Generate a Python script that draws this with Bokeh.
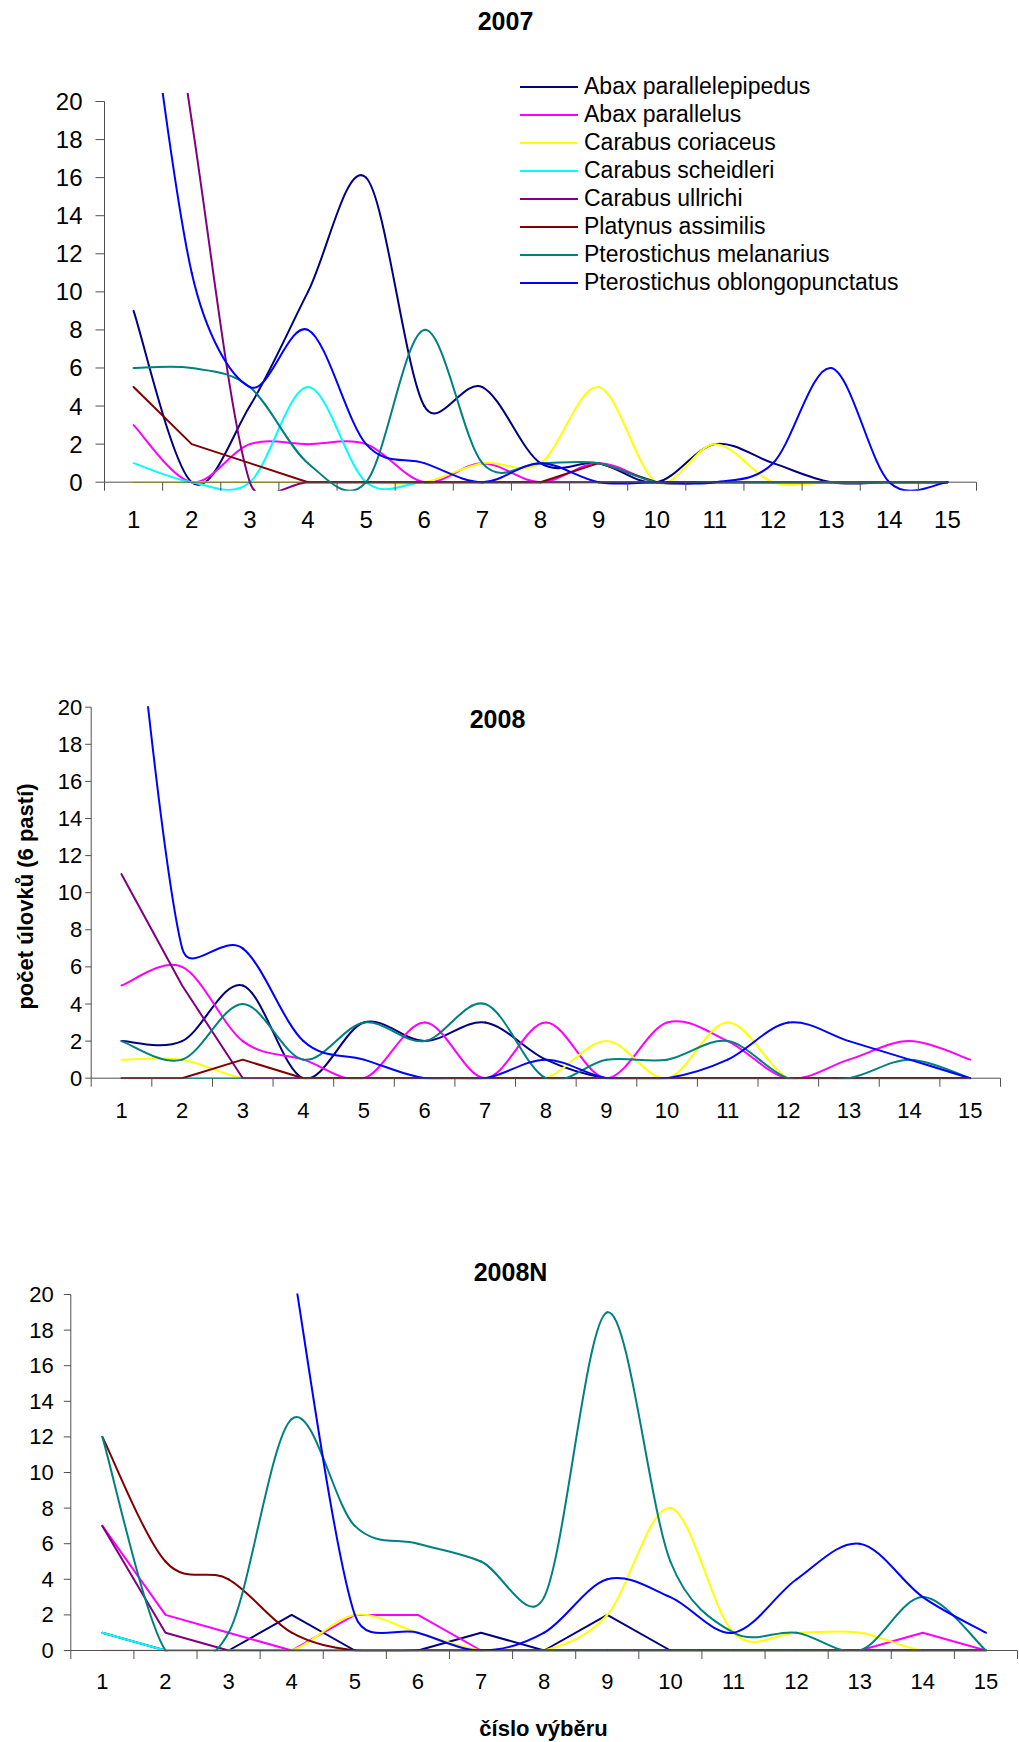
import math

from bokeh.core.properties import value
from bokeh.embed import file_html
from bokeh.layouts import column
from bokeh.models import ColumnDataSource, Legend, LegendItem, Range1d
from bokeh.plotting import figure
from bokeh.resources import INLINE

# ---------------------------------------------------------------- data
categories = list(range(1, 16))
tick_labels = [str(c) for c in categories]
y_ticks = list(range(0, 21, 2))

species = [
    "Abax parallelepipedus",
    "Abax parallelus",
    "Carabus coriaceus",
    "Carabus scheidleri",
    "Carabus ullrichi",
    "Platynus assimilis",
    "Pterostichus melanarius",
    "Pterostichus oblongopunctatus",
]
colors = ["#000080", "#FF00FF", "#FFFF00", "#00FFFF",
          "#800080", "#800000", "#008080", "#0000FF"]

# 2007
abax_parallelepipedus_2007 = [9, 0, 4, 10, 16, 4, 5, 1, 1, 0, 2, 1, 0, 0, 0]
abax_parallelus_2007 = [3, 0, 2, 2, 2, 0, 1, 0, 1, 0, 0, 0, 0, 0, 0]
carabus_coriaceus_2007 = [0, 0, 0, 0, 0, 0, 1, 1, 5, 0, 2, 0, 0, 0, 0]
carabus_scheidleri_2007 = [1, 0, 0, 5, 0, 0, 0, 0, 0, 0, 0, 0, 0, 0, 0]
carabus_ullrichi_2007 = [40, 19, 0, 0, 0, 0, 0, 0, 0, 0, 0, 0, 0, 0, 0]
platynus_assimilis_2007 = [5, 2, 1, 0, 0, 0, 0, 0, 1, 0, 0, 0, 0, 0, 0]
pterostichus_melanarius_2007 = [6, 6, 5, 1, 0, 8, 1, 1, 1, 0, 0, 0, 0, 0, 0]
pterostichus_oblongopunctatus_2007 = [32, 11, 5, 8, 2, 1, 0, 1, 0, 0, 0, 1, 6, 0, 0]

# 2008
abax_parallelepipedus_2008 = [2, 2, 5, 0, 3, 2, 3, 1, 0, 0, 0, 0, 0, 0, 0]
abax_parallelus_2008 = [5, 6, 2, 1, 0, 3, 0, 3, 0, 3, 2, 0, 1, 2, 1]
carabus_coriaceus_2008 = [1, 1, 0, 0, 0, 0, 0, 0, 2, 0, 3, 0, 0, 0, 0]
carabus_scheidleri_2008 = [0, 0, 0, 0, 0, 0, 0, 0, 0, 0, 0, 0, 0, 0, 0]
carabus_ullrichi_2008 = [11, 5, 0, 0, 0, 0, 0, 0, 0, 0, 0, 0, 0, 0, 0]
platynus_assimilis_2008 = [0, 0, 1, 0, 0, 0, 0, 0, 0, 0, 0, 0, 0, 0, 0]
pterostichus_melanarius_2008 = [2, 1, 4, 1, 3, 2, 4, 0, 1, 1, 2, 0, 0, 1, 0]
pterostichus_oblongopunctatus_2008 = [33, 7, 7, 2, 1, 0, 0, 1, 0, 0, 1, 3, 2, 1, 0]

# 2008N
abax_parallelepipedus_2008n = [1, 0, 0, 2, 0, 0, 1, 0, 2, 0, 0, 0, 0, 0, 0]
abax_parallelus_2008n = [7, 2, 1, 0, 2, 2, 0, 0, 0, 0, 0, 0, 0, 1, 0]
carabus_coriaceus_2008n = [0, 0, 0, 0, 2, 1, 0, 0, 2, 8, 1, 1, 1, 0, 0]
carabus_scheidleri_2008n = [1, 0, 0, 0, 0, 0, 0, 0, 0, 0, 0, 0, 0, 0, 0]
carabus_ullrichi_2008n = [7, 1, 0, 0, 0, 0, 0, 0, 0, 0, 0, 0, 0, 0, 0]
platynus_assimilis_2008n = [12, 5, 4, 1, 0, 0, 0, 0, 0, 0, 0, 0, 0, 0, 0]
pterostichus_melanarius_2008n = [12, 0, 1, 13, 7, 6, 5, 3, 19, 5, 1, 1, 0, 3, 0]
pterostichus_oblongopunctatus_2008n = [None, None, None, 22, 2, 1, 0, 1, 4, 3, 1, 4, 6, 3, 1]

series_2007 = [abax_parallelepipedus_2007, abax_parallelus_2007,
               carabus_coriaceus_2007, carabus_scheidleri_2007,
               carabus_ullrichi_2007, platynus_assimilis_2007,
               pterostichus_melanarius_2007, pterostichus_oblongopunctatus_2007]
series_2008 = [abax_parallelepipedus_2008, abax_parallelus_2008,
               carabus_coriaceus_2008, carabus_scheidleri_2008,
               carabus_ullrichi_2008, platynus_assimilis_2008,
               pterostichus_melanarius_2008, pterostichus_oblongopunctatus_2008]
series_2008n = [abax_parallelepipedus_2008n, abax_parallelus_2008n,
                carabus_coriaceus_2008n, carabus_scheidleri_2008n,
                carabus_ullrichi_2008n, platynus_assimilis_2008n,
                pterostichus_melanarius_2008n, pterostichus_oblongopunctatus_2008n]

# line style per series: smoothed curve (True) or straight segments (False)
smooth_2007 = [True, True, True, True, True, False, True, True]
smooth_2008 = [True, True, True, True, False, False, True, True]
smooth_2008n = [False, False, True, False, False, True, True, True]

FONT = "Liberation Sans"
AXIS_COLOR = "#505050"
PAGE_W = 1019


def smooth_segments(xs, ys, sx, sy):
    """Spreadsheet-style smoothed line: one cubic Bezier per pair of
    neighbouring points, control arms 1/6 of the neighbour chord, capped
    at half the segment length (computed in pixel space)."""
    keys = ("x0", "y0", "x1", "y1", "cx0", "cy0", "cx1", "cy1")
    out = {k: [] for k in keys}
    runs, cur = [], []
    for x, y in zip(xs, ys):
        if y is None:
            if cur:
                runs.append(cur)
            cur = []
        else:
            cur.append((x * sx, y * sy))
    if cur:
        runs.append(cur)

    def dist(a, b):
        return math.hypot(a[0] - b[0], a[1] - b[1])

    for pts in runs:
        n = len(pts)
        for i in range(n - 1):
            p0 = pts[i - 1] if i > 0 else pts[i]
            p1, p2 = pts[i], pts[i + 1]
            p3 = pts[i + 2] if i + 2 < n else pts[i + 1]
            d12, d02, d13 = dist(p1, p2), dist(p0, p2), dist(p1, p3)
            f1 = 1 / 6 if d02 / 6 < d12 / 2 else d12 / (2 * d02)
            f2 = 1 / 6 if d13 / 6 < d12 / 2 else d12 / (2 * d13)
            c1 = (p1[0] + f1 * (p2[0] - p0[0]), p1[1] + f1 * (p2[1] - p0[1]))
            c2 = (p2[0] - f2 * (p3[0] - p1[0]), p2[1] - f2 * (p3[1] - p1[1]))
            out["x0"].append(p1[0] / sx); out["y0"].append(p1[1] / sy)
            out["x1"].append(p2[0] / sx); out["y1"].append(p2[1] / sy)
            out["cx0"].append(c1[0] / sx); out["cy0"].append(c1[1] / sy)
            out["cx1"].append(c2[0] / sx); out["cy1"].append(c2[1] / sy)
    return out


class Panel:
    """One chart drawn on a figure whose frame fills the whole figure;
    axes, ticks and texts are drawn on top of the plot area."""

    def __init__(self, series, smooth, fig_top, height, left, right, y0_px,
                 y20_px, clip_px, tick_size, ytick_len, ylabel_gap, xlabel_dy):
        self.fig_top = fig_top
        self.left = left
        self.y0_px = y0_px
        self.sx = (right - left) / 15.0
        self.sy = (y0_px - y20_px) / 20.0
        p = figure(width=PAGE_W, height=height,
                   x_range=Range1d(self.X(0), self.X(PAGE_W)),
                   y_range=Range1d(self.Y(fig_top + height), self.Y(fig_top)),
                   output_backend="svg", toolbar_location=None, title=None,
                   x_axis_location=None, y_axis_location=None,
                   min_border=0, min_border_left=0, min_border_right=0,
                   min_border_top=0, min_border_bottom=0)
        p.xgrid.visible = False
        p.ygrid.visible = False
        p.outline_line_color = None
        p.background_fill_color = "white"
        p.border_fill_color = "white"
        self.p = p

        # series
        self.renderers = []
        for vals, col, sm in zip(series, colors, smooth):
            if sm:
                src = ColumnDataSource(
                    smooth_segments(categories, vals, self.sx, self.sy))
                r = p.bezier(x0="x0", y0="y0", x1="x1", y1="y1",
                             cx0="cx0", cy0="cy0", cx1="cx1", cy1="cy1",
                             source=src, line_color=col, line_width=2,
                             line_cap="round")
            else:
                ys = [float("nan") if v is None else v for v in vals]
                r = p.line(x=categories, y=ys, line_color=col, line_width=2,
                           line_join="round", line_cap="round")
            self.renderers.append(r)

        # plot-area clipping: blank out what runs past the value range
        top_clip = 20 + clip_px / self.sy
        bot_clip = -clip_px / self.sy
        yr = p.y_range
        span = yr.end - yr.start
        mask = p.quad(left=[0.5, 0.5], right=[15.5, 15.5],
                      bottom=[top_clip, yr.start - span],
                      top=[yr.end + span, bot_clip],
                      fill_color="white", fill_alpha=1.0, line_color=None)
        mask.level = "guide"

        # value axis
        ax = [p.segment(x0=[0.5], y0=[0], x1=[0.5], y1=[20],
                        line_color=AXIS_COLOR, line_width=1)]
        ax.append(p.segment(x0=[0.5] * len(y_ticks), y0=y_ticks,
                            x1=[0.5 - ytick_len / self.sx] * len(y_ticks),
                            y1=y_ticks, line_color=AXIS_COLOR, line_width=1))
        ax.append(p.text(x=[0.5] * len(y_ticks), y=y_ticks,
                         text=[str(t) for t in y_ticks],
                         x_offset=ylabel_gap, text_align="right",
                         text_baseline="middle", text_font=value(FONT),
                         text_font_size=value(tick_size), text_color="black"))
        # category axis
        bounds = [c - 0.5 for c in categories] + [15.5]
        ax.append(p.segment(x0=[0.5], y0=[0], x1=[15.5], y1=[0],
                            line_color=AXIS_COLOR, line_width=1))
        ax.append(p.segment(x0=bounds, y0=[0] * len(bounds), x1=bounds,
                            y1=[-8.5 / self.sy] * len(bounds),
                            line_color=AXIS_COLOR, line_width=1))
        ax.append(p.text(x=categories, y=[0] * len(categories), text=tick_labels,
                         y_offset=xlabel_dy, text_align="center",
                         text_baseline="middle", text_font=value(FONT),
                         text_font_size=value(tick_size), text_color="black"))
        for r in ax:
            r.level = "overlay"

    def X(self, px):
        return 0.5 + (px - self.left) / self.sx

    def Y(self, py):
        return (self.y0_px - py) / self.sy

    def text(self, s, px, py, size, angle=0.0):
        r = self.p.text(x=[self.X(px)], y=[self.Y(py)], text=[s], angle=angle,
                        text_align="center", text_baseline="middle",
                        text_font=value(FONT), text_font_size=value(size),
                        text_font_style=value("bold"), text_color="black")
        r.level = "overlay"


# ---------------------------------------------------------------- 2007
a = Panel(series_2007, smooth_2007, fig_top=0, height=600, left=104,
          right=976, y0_px=481.7, y20_px=101, clip_px=8.6, tick_size="24px",
          ytick_len=9, ylabel_gap=-22, xlabel_dy=37)
a.text("2007", 505, 20, "25px")
legend = Legend(
    items=[LegendItem(label=s, renderers=[r])
           for s, r in zip(species, a.renderers)],
    location=(520, 304), padding=0, margin=0, spacing=1,
    glyph_width=58, glyph_height=27, label_height=27, label_standoff=6,
    label_text_font=FONT, label_text_font_size="23px",
    label_text_color="black", border_line_color=None,
    background_fill_alpha=0.0)
legend.level = "overlay"
a.p.add_layout(legend)

# ---------------------------------------------------------------- 2008
b = Panel(series_2008, smooth_2008, fig_top=600, height=590, left=90.7,
          right=1000, y0_px=1077.7, y20_px=706.7, clip_px=1.0,
          tick_size="22px", ytick_len=6, ylabel_gap=-9, xlabel_dy=32)
b.text("2008", 497, 718, "25px")
b.text("počet úlovků (6 pastí)", 25, 896, "22px", angle=math.pi / 2)

# ---------------------------------------------------------------- 2008N
c = Panel(series_2008n, smooth_2008n, fig_top=1190, height=552, left=70.3,
          right=1017, y0_px=1650, y20_px=1294, clip_px=1.0,
          tick_size="22px", ytick_len=7, ylabel_gap=-17, xlabel_dy=31)
c.text("2008N", 510, 1271, "25px")
c.text("číslo výběru", 543, 1728, "22px")

layout = column(a.p, b.p, c.p, spacing=0)
open("out.html", "w").write(file_html(layout, INLINE))
